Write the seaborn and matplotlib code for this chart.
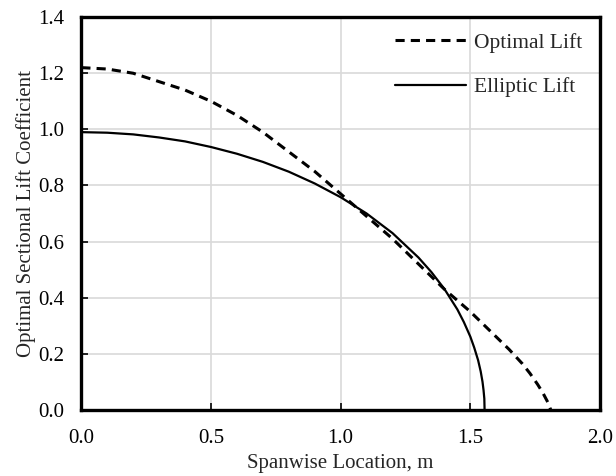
import numpy as np
import pandas as pd
import matplotlib.pyplot as plt
import seaborn as sns

# spanwise location (m) and lift coefficient
span_opt = [0.0, 0.1, 0.2, 0.3, 0.4, 0.5, 0.6, 0.7, 0.8, 0.9, 1.0, 1.1, 1.2,
            1.3, 1.4, 1.5, 1.6, 1.65, 1.7, 1.73, 1.76, 1.78, 1.80, 1.81]
cl_opt = [1.22, 1.215, 1.20, 1.17, 1.14, 1.10, 1.05, 0.99, 0.92, 0.85, 0.77,
          0.69, 0.61, 0.52, 0.43, 0.35, 0.26, 0.215, 0.165, 0.13, 0.09,
          0.06, 0.025, 0.0]

span_ell = [0.0, 0.1, 0.2, 0.3, 0.4, 0.5, 0.6, 0.7, 0.8, 0.9, 1.0, 1.1, 1.2,
            1.3, 1.35, 1.4, 1.45, 1.475, 1.5, 1.515, 1.53, 1.54, 1.547,
            1.551, 1.554, 1.555]
cl_ell = [0.99, 0.988, 0.982, 0.971, 0.957, 0.937, 0.913, 0.884, 0.849,
          0.807, 0.758, 0.700, 0.630, 0.543, 0.491, 0.431, 0.358, 0.313,
          0.261, 0.222, 0.177, 0.137, 0.10, 0.07, 0.04, 0.0]

df = pd.concat([
    pd.DataFrame({"x": span_opt, "y": cl_opt, "series": "Optimal Lift"}),
    pd.DataFrame({"x": span_ell, "y": cl_ell, "series": "Elliptic Lift"}),
], ignore_index=True)

sns.set_style("whitegrid", {"grid.color": "#d9d9d9", "axes.edgecolor": "black"})
plt.rcParams['font.family'] = ['Liberation Serif', 'DejaVu Serif']

fig = plt.figure(figsize=(6.16, 4.76), dpi=100)
ax = fig.add_axes([0.132, 0.139, 0.842, 0.825])

sns.lineplot(data=df, x="x", y="y", hue="series", style="series",
             palette={"Optimal Lift": "black", "Elliptic Lift": "black"},
             dashes={"Optimal Lift": (3, 2), "Elliptic Lift": ""},
             sort=False, estimator=None, ax=ax)
ax.lines[0].set_linewidth(2.2)
ax.lines[1].set_linewidth(1.6)

ax.set_xlim(0, 2.0)
ax.set_ylim(0, 1.4)
ax.set_xticks(np.arange(0, 2.01, 0.5))
ax.set_yticks(np.arange(0, 1.41, 0.2))
ax.xaxis.set_major_formatter(plt.FormatStrFormatter('%.1f'))
ax.yaxis.set_major_formatter(plt.FormatStrFormatter('%.1f'))
ax.grid(True, linewidth=1.2)
ax.tick_params(direction='in', length=5, width=1.2, colors='black',
               labelsize=15, bottom=True, left=True)
ax.tick_params(axis='x', pad=14)
ax.tick_params(axis='y', pad=12)
for s in ax.spines.values():
    s.set_linewidth(2.4)
    s.set_color('black')

ax.set_xlabel('Spanwise Location, m', fontsize=15, labelpad=4)
ax.set_ylabel('Optimal Sectional Lift Coefficient', fontsize=15, labelpad=2)

h, l = ax.get_legend_handles_labels()
for hh in h:
    hh.set_color('black')
h[0].set_linewidth(2.2)
h[1].set_linewidth(1.6)
ax.legend(h, l, loc='upper right', frameon=False, handlelength=3.3,
          labelspacing=1.15, fontsize=15.5, handletextpad=0.4,
          bbox_to_anchor=(1.004, 1.01))

fig.savefig('out.png', dpi=100)
